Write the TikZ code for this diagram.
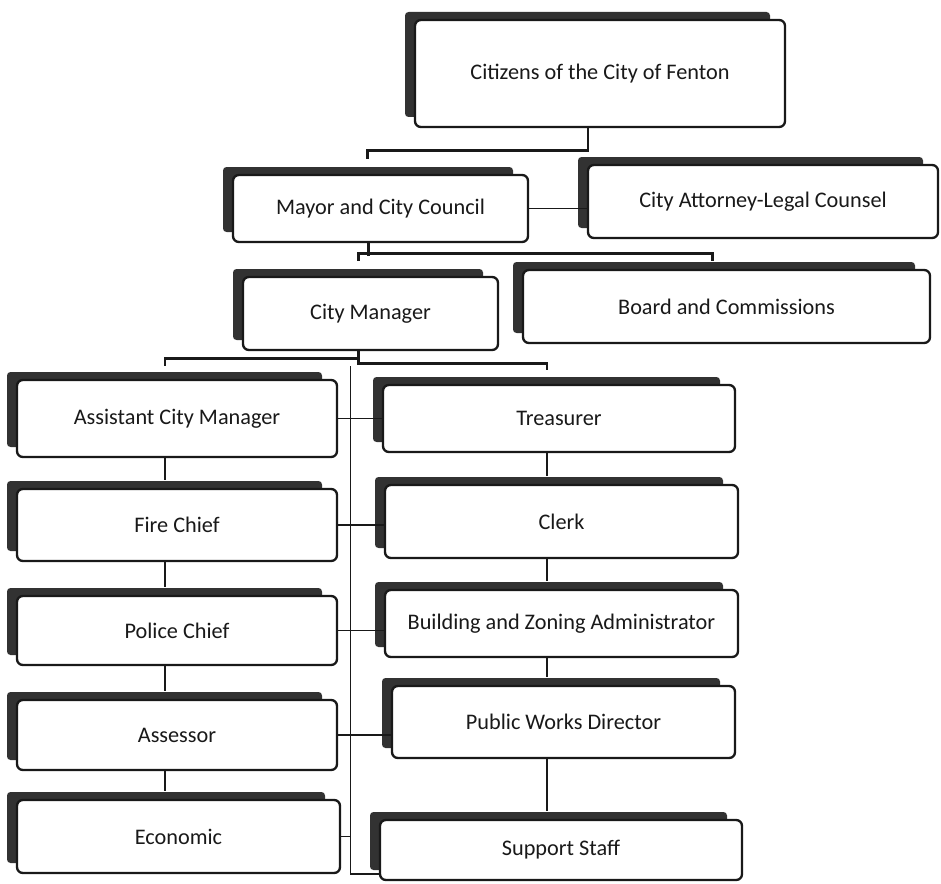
\documentclass[tikz,border=0pt]{standalone}
\usepackage{fontspec}
\setmainfont{Carlito}
\usetikzlibrary{calc}
\definecolor{boxInk}{RGB}{25,25,25}
\definecolor{shadeInk}{RGB}{50,50,50}

\begin{document}
\begin{tikzpicture}[x=0.3mm,y=-0.3mm,
  unit/.style={draw=boxInk,fill=white,line width=2pt,rounded corners=5pt,inner sep=0pt,
    font=\fontsize{19}{19}\selectfont,text=boxInk},
  link/.style={draw=boxInk,line width=2.3pt},
  thinlink/.style={draw=boxInk,line width=1.1pt}]
  \useasboundingbox (0,0) rectangle (941,883);
  % boxes: name/left/top/right/bottom/label
  \foreach \nm/\l/\t/\r/\b/\lab in {
      cit/415/20/785/127/{Citizens of the City of Fenton},
      mayor/233/175/528/242/{Mayor and City Council},
      atty/588/165/938/238/{City Attorney-Legal Counsel},
      mgr/243/277/498/350/{City Manager},
      board/523/270/930/343/{Board and Commissions},
      asst/17/380/337/457/{Assistant City Manager},
      treas/383/385/735/452/{Treasurer},
      fire/17/489/337/561/{Fire Chief},
      clerk/385/485/738/558/{Clerk},
      police/17/596/337/665/{Police Chief},
      bz/385/590/738/657/{Building and Zoning Administrator},
      assess/17/700/337/770/{Assessor},
      pwd/392/686/735/758/{Public Works Director},
      econ/17/800/340/873/{Economic},
      support/380/820/742/880/{Support Staff}}{
    \fill[shadeInk,rounded corners=3pt] (\l-10,\t-8) rectangle (\r-15,\b-10);
    \pgfmathsetmacro{\bw}{(\r-\l)*0.3}
    \pgfmathsetmacro{\bh}{(\b-\t)*0.3}
    \node[unit,minimum width=\bw mm,minimum height=\bh mm] (\nm) at ({(\l+\r)/2},{(\t+\b)/2}) {\lab};
  }
  % upper levels
  \draw[link] ($(cit.south)+(-12,0)$) |- ($(mayor.north)+(-13,-23)$) -- ++(0,8);
  \draw[thinlink] (mayor.east) -- (mayor.east -| atty.west);
  \draw[link] ($(mayor.south)+(-12,0)$) -- ++(0,13);
  \draw[link] ($(mgr.north)+(-12,-15)$) -- ++(0,-7) -| ($(board.north)+(-14,-8)$);
  \draw[link] ($(asst.north)+(-12,-13)$) |- ($(mgr.south)+(-12,7)$) -- ($(mgr.south)+(-12,0)$);
  \draw[link] ($(mgr.south)+(-12,7)$) -- ++(0,5) -| ($(treas.north)+(-12,-14)$);
  % spine and branches
  \coordinate (spine) at ($(mgr.south)+(-20,15)$);
  \draw[thinlink] (spine) |- ($(support.west)+(0,24)$);
  \draw[thinlink] (asst.east) -- (treas.west);
  \draw[thinlink] (fire.east) -- (fire.east -| clerk.west);
  \draw[thinlink] (police.east) -- (police.east -| bz.west);
  \draw[thinlink] (assess.east) -- (assess.east -| pwd.west);
  \draw[thinlink] (econ.east) -- (econ.east -| spine);
  % columns
  \coordinate (lcol) at ($(asst.south)+(-12,0)$);
  \coordinate (rcol) at ($(treas.south)+(-12,0)$);
  \foreach \a/\b in {asst/fire,fire/police,police/assess,assess/econ}
    \draw[link] (\a.south -| lcol) -- ($(\b.north -| lcol)+(0,-8)$);
  \foreach \a/\b in {treas/clerk,clerk/bz,bz/pwd,pwd/support}
    \draw[link] (\a.south -| rcol) -- ($(\b.north -| rcol)+(0,-8)$);
\end{tikzpicture}
\end{document}
